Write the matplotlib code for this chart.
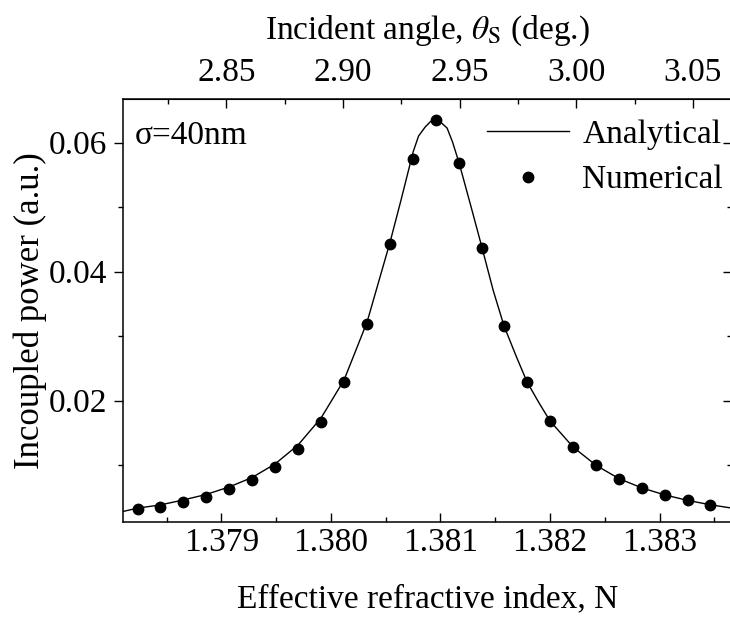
import numpy as np
import matplotlib
matplotlib.use("Agg")
import matplotlib.pyplot as plt
from matplotlib.ticker import MultipleLocator

plt.rcParams['font.family'] = ['Liberation Serif', 'DejaVu Serif']
plt.rcParams['mathtext.fontset'] = 'stix'

# numerical points
num_N = [1.378235, 1.378442, 1.378653, 1.378863, 1.379073, 1.379283, 1.379491,
         1.379701, 1.379908, 1.380118, 1.380325, 1.380536, 1.380749, 1.380956,
         1.381166, 1.381377, 1.381580, 1.381794, 1.382001, 1.382211, 1.382421,
         1.382629, 1.382842, 1.383047, 1.383260, 1.383463]
num_P = [0.00316, 0.00357, 0.00434, 0.00512, 0.00626, 0.00771, 0.00972,
         0.01256, 0.01670, 0.02290, 0.03194, 0.04429, 0.05747, 0.06347,
         0.05685, 0.04367, 0.03158, 0.02290, 0.01685, 0.01282, 0.00998,
         0.00791, 0.00647, 0.00538, 0.00456, 0.00388]

# analytical curve
ana_N = [1.37810, 1.37824, 1.37844, 1.37865, 1.37886, 1.37907, 1.37928, 1.37949,
         1.37970, 1.37991, 1.38012, 1.38033, 1.38054, 1.38064, 1.38075, 1.38080,
         1.38086, 1.38091, 1.38096, 1.38100, 1.38106, 1.38111, 1.38117, 1.38128,
         1.38138, 1.38148, 1.38158, 1.38169, 1.38179, 1.38190, 1.38200, 1.38221,
         1.38242, 1.38263, 1.38284, 1.38305, 1.38326, 1.38346, 1.38367]
ana_P = [0.00282, 0.00336, 0.00383, 0.00460, 0.00546, 0.00662, 0.00809, 0.01019,
         0.01313, 0.01732, 0.02321, 0.03220, 0.04460, 0.05112, 0.05856, 0.06104,
         0.06243, 0.06329, 0.06352, 0.06321, 0.06228, 0.06011, 0.05685, 0.05000,
         0.04367, 0.03716, 0.03158, 0.02693, 0.02290, 0.01964, 0.01685, 0.01282,
         0.00998, 0.00791, 0.00647, 0.00538, 0.00453, 0.00388, 0.00332]

# top axis calibration: angle (deg) vs effective index
N_ref = 1.379046
theta_ref = 2.85
dtheta_dN = 46.98

fs = 24

fig = plt.figure(figsize=(7.3, 6.18), dpi=100)
ax = fig.add_axes([0.1681, 0.1558, 0.8346, 0.6832])

ax.plot(ana_N, ana_P, color='black', lw=1.0, label='Analytical')
ax.plot(num_N, num_P, 'o', color='black', ms=7.5, ls='none', label='Numerical')

ax.set_xlim(1.3781, 1.38366)
ax.set_ylim(0.00124, 0.0667)

ax.xaxis.set_minor_locator(MultipleLocator(0.0005))
ax.yaxis.set_minor_locator(MultipleLocator(0.01))
ax.set_xticks([1.379, 1.380, 1.381, 1.382, 1.383])
ax.set_xticklabels(['1.379', '1.380', '1.381', '1.382', '1.383'])
ax.set_yticks([0.02, 0.04, 0.06])
ax.set_yticklabels(['0.02', '0.04', '0.06'])

ax.tick_params(axis='x', which='both', direction='in', top=False, labelsize=fs, pad=4)
ax.tick_params(axis='y', which='both', direction='out', right=False, labelsize=fs, pad=5)
ax.tick_params(which='major', length=6.3, width=1.0)
ax.tick_params(which='minor', length=3.4, width=1.0)
for s in ax.spines.values():
    s.set_linewidth(1.1)

ax.set_xlabel('Effective refractive index, N', fontsize=fs, labelpad=19)
ax.set_ylabel('Incoupled power (a.u.)', fontsize=25, labelpad=1)

# right ticks pointing inward
ry = ax.secondary_yaxis('right')
ry.yaxis.set_major_locator(MultipleLocator(0.02))
ry.yaxis.set_minor_locator(MultipleLocator(0.01))
ry.tick_params(which='both', direction='in', labelright=False)
ry.tick_params(which='major', length=6.3, width=1.0)
ry.tick_params(which='minor', length=3.4, width=1.0)

# top axis: incident angle
def n2t(n):
    return theta_ref + (np.asarray(n) - N_ref) * dtheta_dN

def t2n(t):
    return N_ref + (np.asarray(t) - theta_ref) / dtheta_dN

tx = ax.secondary_xaxis('top', functions=(n2t, t2n))
tx.set_xticks([2.85, 2.90, 2.95, 3.00, 3.05])
tx.set_xticklabels(['2.85', '2.90', '2.95', '3.00', '3.05'])
tx.xaxis.set_minor_locator(MultipleLocator(0.025))
tx.tick_params(which='both', direction='in', labelsize=fs, pad=8)
tx.tick_params(which='major', length=6.3, width=1.0)
tx.tick_params(which='minor', length=3.4, width=1.0)
tx.set_xlabel(r'Incident angle, $\theta_\mathrm{S}$ (deg.)', fontsize=fs, labelpad=14)

ax.text(0.02, 0.95, 'σ=40nm', transform=ax.transAxes, fontsize=fs, va='top', ha='left')

ax.legend(loc='upper right', bbox_to_anchor=(1.018, 1.0), frameon=False, fontsize=fs,
          handlelength=2.45, handletextpad=0.4, borderaxespad=0.2, labelspacing=0.45,
          numpoints=1)

fig.savefig('out.png', dpi=100)
